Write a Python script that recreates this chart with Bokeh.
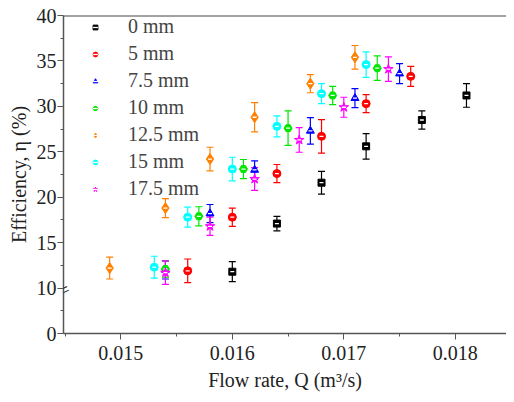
from bokeh.plotting import figure
from bokeh.models import (ColumnDataSource, Whisker, TeeHead, FixedTicker, Label, Span,
                          Legend, LegendItem, Range1d)
from bokeh.embed import file_html
from bokeh.resources import INLINE

# ---- data ----
series_labels = ["0 mm", "5 mm", "7.5 mm", "10 mm", "12.5 mm", "15 mm", "17.5 mm"]

q_0 = [0.0160, 0.0164, 0.0168, 0.0172, 0.0177, 0.0181]
eta_0 = [11.8, 17.1, 21.6, 25.6, 28.5, 31.2]
err_0 = [1.1, 0.8, 1.25, 1.4, 1.0, 1.3]

q_5 = [0.0156, 0.0160, 0.0164, 0.0168, 0.0172, 0.0176]
eta_5 = [11.9, 17.8, 22.6, 26.7, 30.3, 33.3]
err_5 = [1.3, 1.0, 1.0, 1.85, 1.0, 1.1]

q_75 = [0.0154, 0.0158, 0.0162, 0.0167, 0.0171, 0.0175]
eta_75 = [12.0, 18.2, 23.0, 27.3, 30.9, 33.6]
err_75 = [1.0, 1.0, 1.0, 1.45, 1.05, 1.1]

q_10 = [0.0154, 0.0157, 0.0161, 0.0165, 0.0169, 0.0173]
eta_10 = [12.1, 17.9, 23.1, 27.6, 31.2, 34.2]
err_10 = [0.9, 1.05, 1.05, 1.9, 1.0, 1.35]

q_125 = [0.0149, 0.0154, 0.0158, 0.0162, 0.0167, 0.0171]
eta_125 = [12.2, 18.8, 24.2, 28.8, 32.5, 35.4]
err_125 = [1.2, 1.05, 1.3, 1.6, 1.0, 1.3]

q_15 = [0.0153, 0.0156, 0.0160, 0.0164, 0.0168, 0.0172]
eta_15 = [12.3, 17.8, 23.1, 27.8, 31.4, 34.6]
err_15 = [1.2, 1.1, 1.3, 1.15, 1.1, 1.4]

q_175 = [0.0154, 0.0158, 0.0162, 0.0166, 0.0170, 0.0174]
eta_175 = [11.7, 16.8, 22.0, 26.3, 29.9, 34.1]
err_175 = [1.3, 1.0, 1.25, 1.35, 1.1, 1.35]

x_ticks = [0.015, 0.016, 0.017, 0.018]
x_tick_labels = ["0.015", "0.016", "0.017", "0.018"]
# y axis has a break: plot position 5 shows value 0, positions 10..40 show values 10..40
y_ticks = [5, 10, 15, 20, 25, 30, 35, 40]
y_tick_labels = ["0", "10", "15", "20", "25", "30", "35", "40"]

all_q = [q_0, q_5, q_75, q_10, q_125, q_15, q_175]
all_eta = [eta_0, eta_5, eta_75, eta_10, eta_125, eta_15, eta_175]
all_err = [err_0, err_5, err_75, err_10, err_125, err_15, err_175]

colors = ["#000000", "#FF0000", "#0000FF", "#00E600", "#FF8000", "#00FFFF", "#FF00FF"]
markers = ["square", "circle", "triangle", "hex", "diamond", "circle", "star"]
msize = {"square": 7, "circle": 8, "triangle": 8, "hex": 8, "diamond": 11, "star": 10}

FONT = "Liberation Serif"

p = figure(width=506, height=394, output_backend="svg", toolbar_location=None,
           x_range=Range1d(0.014486, 0.018459), y_range=Range1d(5, 40),
           min_border_left=63, min_border_right=0, min_border_top=15, min_border_bottom=61)
p.outline_line_color = None
p.xgrid.visible = False
p.ygrid.visible = False
p.background_fill_color = "white"
p.border_fill_color = "white"

items = []
for lab, qs, es, ers, c, m in zip(series_labels, all_q, all_eta, all_err, colors, markers):
    src = ColumnDataSource(dict(q=qs, eta=es,
                                lo=[e - r for e, r in zip(es, ers)],
                                hi=[e + r for e, r in zip(es, ers)]))
    w = Whisker(source=src, base="q", lower="lo", upper="hi", dimension="height",
                line_color=c, line_width=1.2,
                upper_head=TeeHead(size=7, line_color=c, line_width=1.2),
                lower_head=TeeHead(size=7, line_color=c, line_width=1.2))
    p.add_layout(w)
    r1 = p.scatter("q", "eta", source=src, marker=m, size=msize[m],
                   fill_color=c, line_color=c, line_width=1)
    r2 = p.scatter("q", "eta", source=src, marker="dash", size=4,
                   line_color="white", line_width=1.3)
    items.append(LegendItem(label=lab, renderers=[r1, r2]))

legend = Legend(items=items, location=(26, 133), padding=0, margin=0, spacing=4,
                label_height=20, glyph_height=20, glyph_width=12, label_standoff=27,
                label_text_font=FONT, label_text_font_size="20px",
                background_fill_alpha=0, border_line_color=None)
p.add_layout(legend)

axis_color = "#555555"
for ax in (p.xaxis[0], p.yaxis[0]):
    ax.axis_line_color = axis_color
    ax.axis_line_width = 1.5
    ax.major_tick_line_color = axis_color
    ax.minor_tick_line_color = axis_color
    ax.major_tick_in = 0
    ax.major_tick_out = 6
    ax.minor_tick_in = 0
    ax.minor_tick_out = 3
    ax.major_label_text_font = FONT
    ax.major_label_text_font_size = "20px"
    ax.major_label_text_color = "#222222"
    ax.axis_label_text_font = FONT
    ax.axis_label_text_font_size = "20px"
    ax.axis_label_text_font_style = "normal"
    ax.axis_label_text_color = "#222222"

p.xaxis.ticker = FixedTicker(ticks=x_ticks, minor_ticks=[0.0145, 0.0155, 0.0165, 0.0175])
p.xaxis.major_label_overrides = dict(zip(x_ticks, x_tick_labels))
p.xaxis.axis_label = "Flow rate, Q (m\u00b3/s)"
p.xaxis.major_label_standoff = 6
p.xaxis.axis_label_standoff = 6

p.yaxis.ticker = FixedTicker(ticks=y_ticks, minor_ticks=[7.5, 12.5, 17.5, 22.5, 27.5, 32.5, 37.5])
p.yaxis.major_label_overrides = dict(zip(y_ticks, y_tick_labels))
p.yaxis.axis_label = "Efficiency, \u03b7 (%)"
p.yaxis.major_label_standoff = 1
p.yaxis.axis_label_standoff = 4

# top frame line
p.add_layout(Span(location=40, dimension="width", line_color="#444444", line_width=2))

# axis break mark
p.add_layout(Label(x=0.014486, y=9.8, text="=", text_font=FONT, text_font_size="20px",
                   text_align="center", text_baseline="middle", angle=0.45,
                   text_color="#222222"))

open("out.html", "w").write(file_html(p, INLINE))
